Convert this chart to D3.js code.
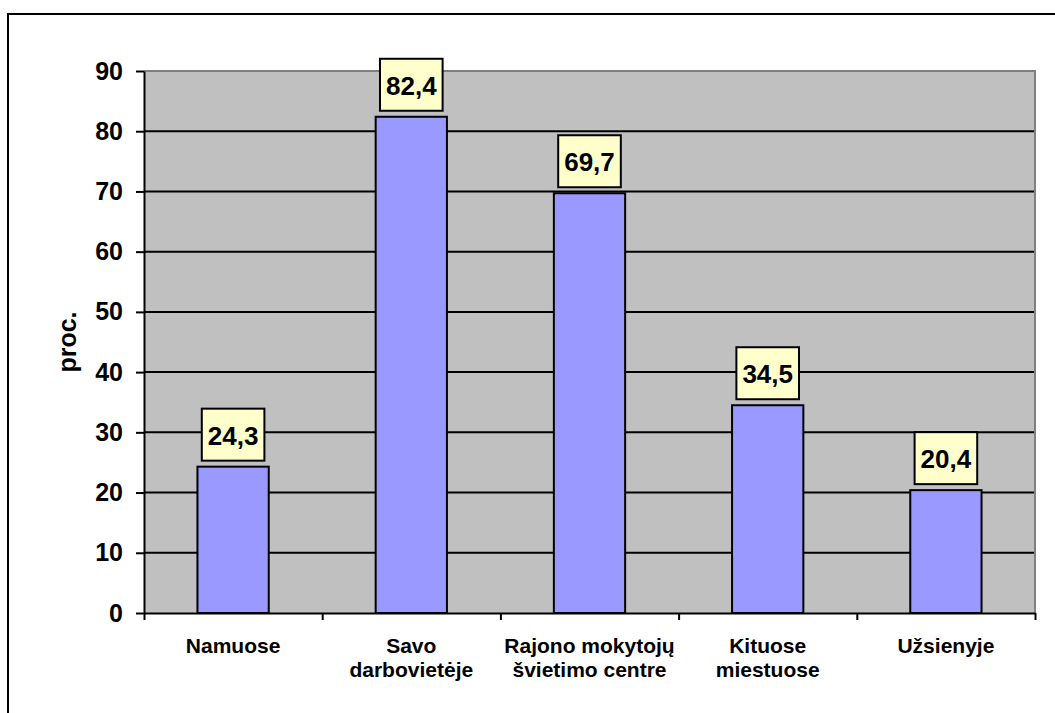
<!DOCTYPE html>
<html>
<head>
<meta charset="utf-8">
<script src="https://cdn.jsdelivr.net/npm/d3@7/dist/d3.min.js"></script>
<style>
  html, body { margin: 0; padding: 0; background: #fff; }
  svg { display: block; }
  text { font-family: "Liberation Sans", Arial, Helvetica, sans-serif; font-weight: bold; fill: #000; }
</style>
</head>
<body>
<svg id="chart" width="1055" height="713"></svg>
<script>
// Category labels (multi-line where the label wraps)
const categories = [
  ["Namuose"],
  ["Savo", "darbovietėje"],
  ["Rajono mokytojų", "švietimo centre"],
  ["Kituose", "miestuose"],
  ["Užsienyje"]
];
// Share of respondents, per cent
const values = [24.3, 82.4, 69.7, 34.5, 20.4];
// Value axis ticks
const yTicks = [0, 10, 20, 30, 40, 50, 60, 70, 80, 90];
const yTitle = "proc.";

const svg = d3.select("#chart");
const plot = { left: 144, right: 1035, top: 71, bottom: 613 };

const keys = categories.map(c => c.join(" "));
const x = d3.scaleBand()
  .domain(keys)
  .range([plot.left, plot.right])
  .paddingInner(0.6)
  .paddingOuter(0.3);
const y = d3.scaleLinear().domain([0, 90]).range([plot.bottom, plot.top]);

// Outer chart frame (runs past the right and bottom edges)
svg.append("rect")
  .attr("x", 8).attr("y", 14)
  .attr("width", 1200).attr("height", 900)
  .attr("fill", "none").attr("stroke", "#000").attr("stroke-width", 2);

// Plot area background
svg.append("rect")
  .attr("x", plot.left).attr("y", plot.top)
  .attr("width", plot.right - plot.left).attr("height", plot.bottom - plot.top)
  .attr("fill", "#c0c0c0");

// Horizontal gridlines
svg.append("g")
  .selectAll("line")
  .data(yTicks.filter(t => t > 0 && t < 90))
  .join("line")
  .attr("x1", plot.left).attr("x2", plot.right)
  .attr("y1", d => y(d)).attr("y2", d => y(d))
  .attr("stroke", "#000").attr("stroke-width", 2);

// Plot-area border on the top and right (grey)
svg.append("path")
  .attr("d", `M${plot.left},${y(90)}H${plot.right}V${plot.bottom}`)
  .attr("fill", "none").attr("stroke", "#808080").attr("stroke-width", 2);

// Bars
svg.append("g")
  .selectAll("rect")
  .data(values)
  .join("rect")
  .attr("x", (d, i) => x(keys[i]))
  .attr("y", d => y(d))
  .attr("width", x.bandwidth())
  .attr("height", d => y(0) - y(d))
  .attr("fill", "#9999ff")
  .attr("stroke", "#000").attr("stroke-width", 2);

// Value axis
const yAxis = svg.append("g")
  .attr("transform", `translate(${plot.left},0)`)
  .call(d3.axisLeft(y).tickValues(yTicks).tickSize(8).tickPadding(13).tickSizeOuter(0));
yAxis.select(".domain").attr("stroke", "#000").attr("stroke-width", 2);
yAxis.selectAll(".tick line").attr("stroke", "#000").attr("stroke-width", 2);
yAxis.selectAll(".tick text")
  .style("font-size", "25px")
  .style("font-family", "'Liberation Sans', Arial, sans-serif")
  .style("font-weight", "bold")
  .attr("fill", "#000");

// Category axis: line with tick marks at the category boundaries
const xb = d3.scaleLinear().domain([0, keys.length]).range([plot.left, plot.right]);
const xAxis = svg.append("g")
  .attr("transform", `translate(0,${plot.bottom})`)
  .call(d3.axisBottom(xb).tickValues(d3.range(keys.length + 1)).tickSize(7).tickSizeOuter(0).tickFormat(""));
xAxis.select(".domain").attr("stroke", "#000").attr("stroke-width", 2);
xAxis.selectAll(".tick line").attr("stroke", "#000").attr("stroke-width", 2);

// Category labels
const catG = svg.append("g");
categories.forEach((lines, i) => {
  const t = catG.append("text")
    .attr("x", x(keys[i]) + x.bandwidth() / 2)
    .attr("y", 653)
    .attr("text-anchor", "middle")
    .style("font-size", "21px");
  lines.forEach((ln, j) => {
    t.append("tspan")
      .attr("x", x(keys[i]) + x.bandwidth() / 2)
      .attr("dy", j === 0 ? 0 : 24)
      .text(ln);
  });
});

// Axis title
svg.append("text")
  .attr("transform", `translate(76,${(plot.top + plot.bottom) / 2}) rotate(-90)`)
  .attr("text-anchor", "middle")
  .style("font-size", "25px")
  .text(yTitle);

// Data labels in boxes above bars
const fmt = v => v.toFixed(1).replace(".", ",");
const lab = svg.append("g");
values.forEach((v, i) => {
  const cx = x(keys[i]) + x.bandwidth() / 2;
  const boxBottom = y(v) - 6;
  const g = lab.append("g");
  const rect = g.append("rect");
  const txt = g.append("text")
    .attr("x", cx)
    .attr("y", boxBottom - 16)
    .attr("text-anchor", "middle")
    .style("font-size", "26px")
    .text(fmt(v));
  const w = txt.node().getComputedTextLength() + 12;
  rect.attr("x", cx - w / 2).attr("y", boxBottom - 52)
    .attr("width", w).attr("height", 52)
    .attr("fill", "#ffffcc").attr("stroke", "#000").attr("stroke-width", 2);
});
</script>
</body>
</html>
